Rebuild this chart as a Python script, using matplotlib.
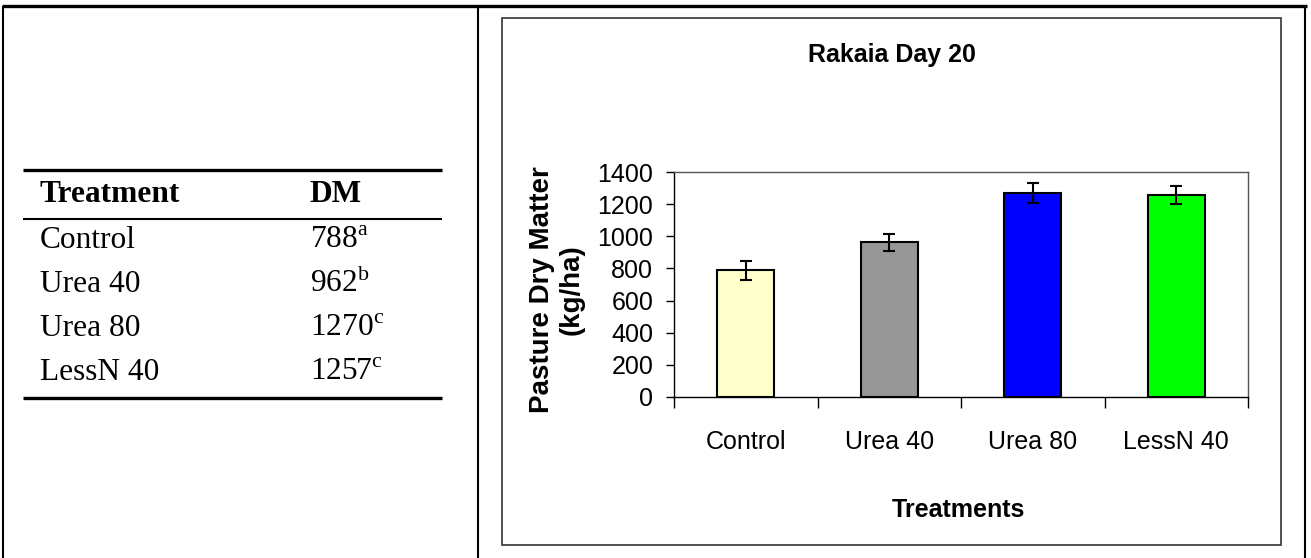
import matplotlib
matplotlib.use('Agg')
from matplotlib import pyplot as plt
from matplotlib.lines import Line2D
from matplotlib.patches import Rectangle

# data
treatments = ['Control', 'Urea 40', 'Urea 80', 'LessN 40']
dm_values = [788, 962, 1270, 1257]
dm_errors = [58, 55, 60, 55]
dm_letters = ['a', 'b', 'c', 'c']
bar_colors = ['#FFFFCC', '#969696', '#0000FF', '#00FF00']

W, H = 1311, 558

plt.rcParams['mathtext.fontset'] = 'custom'
plt.rcParams['mathtext.rm'] = 'Liberation Serif'

fig = plt.figure(figsize=(W / 100, H / 100), dpi=100)
fig.set_facecolor('white')


def fx(x):
    return x / W


def fy(y):
    return 1 - y / H


def hline(x0, x1, y, lw):
    fig.add_artist(Line2D([fx(x0), fx(x1)], [fy(y), fy(y)], color='black', lw=lw,
                          transform=fig.transFigure, solid_capstyle='butt'))


def vline(x, y0, y1, lw):
    fig.add_artist(Line2D([fx(x), fx(x)], [fy(y0), fy(y1)], color='black', lw=lw,
                          transform=fig.transFigure, solid_capstyle='butt'))


# outer page table frame
hline(2, 1307, 6, 2.4)
vline(3, 6, H, 1.5)
vline(478, 6, H, 1.5)
vline(1305, 6, H, 1.5)

# left table
serif = 'Liberation Serif'
fs = 22.6
hline(23, 442, 170, 2.4)
hline(23, 442, 219, 1.5)
hline(23, 442, 398, 2.4)
fig.text(fx(40), fy(202), 'Treatment', fontsize=fs, fontweight='bold', family=serif, va='baseline')
fig.text(fx(310), fy(202), 'DM', fontsize=fs, fontweight='bold', family=serif, va='baseline')
row_y = [248, 292, 336, 380]
for name, val, let, y in zip(treatments, dm_values, dm_letters, row_y):
    fig.text(fx(40), fy(y), name, fontsize=fs, family=serif, va='baseline')
    fig.text(fx(310), fy(y), '%d$^{\\mathrm{%s}}$' % (val, let), fontsize=fs, family=serif,
             va='baseline')

# chart frame
fig.add_artist(Rectangle((fx(502), fy(545)), fx(1281) - fx(502), fy(18) - fy(545),
                         fill=False, edgecolor='#333333', lw=1.2, transform=fig.transFigure))

sans = 'Liberation Sans'
ax = fig.add_axes([fx(674), fy(397), fx(1248) - fx(674), fy(172) - fy(397)])
x = list(range(len(treatments)))
ax.bar(x, dm_values, width=0.4, color=bar_colors, edgecolor='black', linewidth=1.5, zorder=2)
ax.errorbar(x, dm_values, yerr=dm_errors, fmt='none', ecolor='black', elinewidth=1.5,
            capsize=4.5, capthick=1.5, zorder=3)

ax.set_xlim(-0.5, 3.5)
ax.set_ylim(0, 1400)
ax.set_yticks(range(0, 1401, 200))
ax.set_xticks([-0.5, 0.5, 1.5, 2.5, 3.5])
ax.set_xticklabels([])
ax.set_xticks(x, minor=True)
ax.set_xticklabels(treatments, minor=True)
ax.tick_params(axis='x', which='major', direction='out', length=8, width=1)
ax.tick_params(axis='x', which='minor', length=0, pad=24, labelsize=18)
ax.tick_params(axis='y', direction='out', length=6, width=1, pad=9, labelsize=18)
for lab in ax.get_xticklabels(minor=True) + ax.get_yticklabels():
    lab.set_family(sans)
for side in ['top', 'right']:
    ax.spines[side].set_color('#555555')
for side in ax.spines:
    ax.spines[side].set_linewidth(1.0)

fig.text(fx(557), fy(290), 'Pasture Dry Matter\n(kg/ha)', fontsize=20, fontweight='bold',
         family=sans, rotation=90, ha='center', va='center', linespacing=1.2)
fig.text(fx(958), fy(510), 'Treatments', fontsize=18, fontweight='bold', family=sans,
         ha='center', va='center')
fig.text(fx(892), fy(55), 'Rakaia Day 20', fontsize=18, fontweight='bold', family=sans,
         ha='center', va='center')

plt.savefig('out.png', dpi=100)
